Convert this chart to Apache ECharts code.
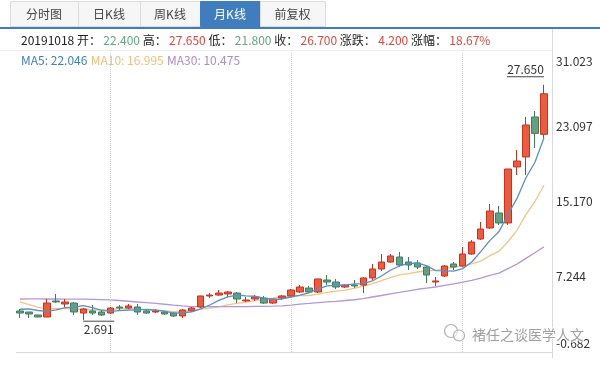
<!DOCTYPE html>
<html>
<head>
<meta charset="utf-8">
<script src="https://cdn.jsdelivr.net/npm/echarts@6/dist/echarts.min.js"></script>
<style>
  html, body { margin: 0; padding: 0; background: #fff; }
  #chart { width: 600px; height: 379px; }
</style>
</head>
<body>
<div id="chart"></div>
<script>
// ---------------- data ----------------
const categories = [
  '201412',
  '201501','201502','201503','201504','201505','201506','201507','201508','201509','201510','201511','201512',
  '201601','201602','201603','201604','201605','201606','201607','201608','201609','201610','201611','201612',
  '201701','201702','201703','201704','201705','201706','201707','201708','201709','201710','201711','201712',
  '201801','201802','201803','201804','201805','201806','201807','201808','201809','201810','201811','201812',
  '201901','201902','201903','201904','201905','201906','201907','201908','201909','201910'
];
// [open, close, low, high]
const candles = [
  [3.67, 3.45, 2.92, 3.88], [3.56, 3.35, 2.92, 3.56], [3.24, 3.03, 3.00, 3.26], [3.03, 4.51, 3.00, 4.94],
  [4.73, 4.62, 4.51, 5.47], [4.41, 4.62, 4.09, 4.94], [4.51, 3.56, 3.24, 4.62], [3.45, 3.88, 2.691, 3.98],
  [3.67, 3.45, 3.24, 4.30], [3.56, 3.24, 3.14, 3.77], [3.45, 3.98, 3.35, 4.09], [4.09, 3.98, 3.77, 4.30],
  [3.98, 4.20, 3.88, 4.41], [4.09, 3.56, 3.24, 4.41], [3.67, 3.45, 3.35, 3.77], [3.56, 3.67, 3.45, 3.88],
  [3.56, 3.35, 3.24, 3.67], [3.45, 3.14, 3.03, 3.56], [3.14, 3.77, 2.92, 3.88], [3.67, 3.98, 3.56, 4.09],
  [4.09, 5.26, 3.98, 5.28], [5.26, 5.36, 5.04, 5.57], [5.36, 5.57, 5.26, 5.89], [5.47, 5.68, 5.15, 5.79],
  [5.57, 4.94, 4.51, 5.68], [4.73, 4.83, 4.62, 5.15], [4.94, 5.15, 4.73, 5.36], [5.04, 4.51, 4.41, 5.26],
  [4.51, 4.94, 4.41, 4.96], [5.04, 5.26, 4.83, 5.36], [5.26, 5.89, 5.15, 6.00], [5.68, 6.21, 5.57, 6.42],
  [6.10, 5.68, 5.57, 6.32], [5.68, 7.06, 5.57, 7.08], [6.95, 6.74, 6.42, 7.48], [6.74, 6.21, 6.00, 7.06],
  [6.21, 6.42, 6.10, 6.53], [6.42, 6.32, 6.10, 6.95], [6.42, 7.17, 5.57, 7.27], [7.17, 8.12, 6.95, 8.65],
  [8.12, 8.86, 7.91, 9.71], [8.86, 9.50, 8.76, 9.71], [9.39, 8.54, 8.33, 9.92], [8.86, 8.54, 8.01, 9.39],
  [8.76, 8.33, 8.12, 9.07], [8.33, 7.48, 6.63, 8.54], [6.74, 6.85, 6.32, 7.27], [7.38, 8.44, 7.27, 8.54],
  [8.65, 8.33, 8.01, 8.86], [8.44, 9.71, 8.33, 10.45], [9.71, 10.98, 9.60, 11.19], [11.30, 12.36, 11.19, 13.10],
  [12.47, 14.27, 12.36, 15.01], [14.06, 13.00, 12.79, 14.80], [13.00, 18.72, 12.79, 18.74], [18.94, 19.57, 18.09, 20.74],
  [20.00, 23.39, 18.09, 24.24], [24.24, 22.50, 20.95, 24.87], [22.40, 26.70, 21.80, 27.65]
];
const ma5 = [
  3.85, 3.88, 3.72, 3.62, 3.79, 4.03, 4.07, 4.24, 4.03, 3.75,
  3.62, 3.71, 3.77, 3.79, 3.83, 3.77, 3.65, 3.43, 3.48, 3.58,
  3.90, 4.30, 4.79, 5.17, 5.36, 5.28, 5.23, 5.02, 4.87, 4.94,
  5.15, 5.36, 5.60, 6.02, 6.32, 6.38, 6.42, 6.55, 6.57, 6.85,
  7.38, 7.99, 8.44, 8.71, 8.75, 8.48, 7.95, 7.93, 7.89, 8.16,
  8.86, 9.96, 11.13, 12.06, 13.87, 15.58, 17.79, 19.44, 22.046
];
const ma10 = [
  4.62, 4.35, 4.05, 3.90, 3.95, 3.92, 3.88, 3.85, 3.80, 3.77,
  3.82, 3.89, 4.00, 3.91, 3.79, 3.70, 3.68, 3.60, 3.63, 3.71,
  3.84, 3.97, 4.11, 4.32, 4.47, 4.59, 4.77, 4.91, 5.02, 5.15,
  5.21, 5.30, 5.31, 5.45, 5.63, 5.77, 5.89, 6.07, 6.30, 6.58,
  6.88, 7.21, 7.49, 7.64, 7.80, 7.93, 7.97, 8.18, 8.30, 8.46,
  8.67, 8.96, 9.53, 9.98, 11.01, 12.22, 13.88, 15.28, 16.995
];
const ma30 = [
  4.94, 4.95, 4.95, 4.94, 4.94, 4.93, 4.93, 4.92, 4.90, 4.88,
  4.85, 4.78, 4.70, 4.62, 4.55, 4.47, 4.38, 4.28, 4.20, 4.14,
  4.12, 4.12, 4.13, 4.13, 4.14, 4.14, 4.15, 4.16, 4.18, 4.21,
  4.29, 4.39, 4.47, 4.56, 4.63, 4.68, 4.78, 4.86, 4.98, 5.15,
  5.31, 5.49, 5.64, 5.80, 5.97, 6.09, 6.21, 6.39, 6.54, 6.73,
  6.92, 7.15, 7.44, 7.69, 8.15, 8.64, 9.25, 9.85, 10.475
];
const yTickLabels = ['-0.682', '7.244', '15.170', '23.097', '31.023'];
const yMin = -0.682, yMax = 31.023;
const splitIdx = [10, 30, 49];
const tabs = ['分时图', '日K线', '周K线', '月K线', '前复权'];
const activeTab = 3;
const infoDate = '20191018';
const infoLabels = ['开：', '高：', '低：', '收：', '涨跌：', '涨幅：'];
const infoValues = ['22.400', '27.650', '21.800', '26.700', '4.200', '18.67%'];
const infoColors = ['g', 'r', 'g', 'r', 'r', 'r'];
const maLegend = ['MA5: 22.046', 'MA10: 16.995', 'MA30: 10.475'];
const watermark = '褚任之谈医学人文';

// ---------------- style ----------------
const FONT = '"Noto Sans CJK SC", "Noto Sans", sans-serif';
const RED = '#ee5a3d', RED_B = '#c8321f';
const GREEN = '#62a283', GREEN_B = '#3e7d5e';
const C_MA5 = '#5b8fc6', C_MA10 = '#f3c585', C_MA30 = '#b596db';

const chart = echarts.init(document.getElementById('chart'), null, { renderer: 'canvas' });

// tabs graphic
const tabEdges = [10, 78, 140, 200, 260, 325];
const graphics = [];
tabs.forEach((t, i) => {
  const x0 = tabEdges[i], x1 = tabEdges[i + 1];
  const active = i === activeTab;
  graphics.push({
    type: 'rect', shape: { x: x0 + 0.5, y: 1.5, width: x1 - x0, height: 25 },
    style: { fill: active ? '#3f7dbf' : '#f6f6f6', stroke: active ? '#3f7dbf' : '#dcdcdc', lineWidth: 1 },
    z: 1
  });
  graphics.push({
    type: 'text', x: (x0 + x1) / 2, y: 14,
    style: { text: t, fill: active ? '#fff' : '#444', font: '12px ' + FONT, textAlign: 'center', textVerticalAlign: 'middle' },
    z: 2
  });
});
graphics.push({ type: 'rect', shape: { x: 0, y: 27, width: 600, height: 2 }, style: { fill: '#3f7dbf' }, z: 3 });

// info row
let infoText = '{k|' + infoDate + ' }';
infoLabels.forEach((l, i) => {
  infoText += '{k|' + l + '\u2009}{' + infoColors[i] + '|' + infoValues[i] + '}' + (i < infoLabels.length - 1 ? '{k| }' : '');
});
graphics.push({
  type: 'text', x: 21, y: 40,
  style: {
    text: infoText, textVerticalAlign: 'middle',
    rich: {
      k: { fill: '#222', font: '12px ' + FONT },
      g: { fill: '#5fa886', font: '12px ' + FONT },
      r: { fill: '#e0473a', font: '12px ' + FONT }
    }
  }, z: 3
});
graphics.push({ type: 'line', shape: { x1: 0, y1: 50.5, x2: 552, y2: 50.5 }, style: { stroke: '#ececec', lineWidth: 1 }, z: 1 });

// MA legend
graphics.push({
  type: 'text', x: 21, y: 60,
  style: {
    text: '{a|' + maLegend[0] + '} {b|' + maLegend[1] + '} {c|' + maLegend[2] + '}',
    textVerticalAlign: 'middle',
    rich: {
      a: { fill: '#3f7fbf', font: '12px ' + FONT },
      b: { fill: '#f0bf78', font: '12px ' + FONT },
      c: { fill: '#a98bd0', font: '12px ' + FONT }
    }
  }, z: 3
});

// frame lines
graphics.push({ type: 'line', shape: { x1: 552.5, y1: 29, x2: 552.5, y2: 358 }, style: { stroke: '#d9d9d9', lineWidth: 1 }, z: 1 });
graphics.push({ type: 'line', shape: { x1: 16, y1: 352.5, x2: 552, y2: 352.5 }, style: { stroke: '#d9d9d9', lineWidth: 1 }, z: 1 });

// watermark
graphics.push({ type: 'circle', shape: { cx: 451, cy: 331, r: 6.5 }, style: { fill: 'rgba(255,255,255,0.6)', stroke: '#b0b0b0', lineWidth: 1.2 }, z: 20 });
graphics.push({ type: 'circle', shape: { cx: 459, cy: 335.5, r: 5.5 }, style: { fill: 'rgba(255,255,255,0.6)', stroke: '#b0b0b0', lineWidth: 1.2 }, z: 20 });
graphics.push({
  type: 'text', x: 472, y: 335,
  style: { text: watermark, fill: 'rgba(150,150,150,0.9)', font: '14px ' + FONT, textVerticalAlign: 'middle',
           stroke: 'rgba(255,255,255,0.8)', lineWidth: 2 }, z: 20
});

const option = {
  animation: false,
  backgroundColor: '#fff',
  textStyle: { fontFamily: FONT },
  grid: { left: 15.5, right: 51.5, top: 53, bottom: 27, containLabel: false },
  xAxis: {
    type: 'category', data: categories, boundaryGap: true,
    axisLine: { show: false }, axisTick: { show: false }, axisLabel: { show: false }, splitLine: { show: false }
  },
  yAxis: {
    type: 'value', position: 'right', min: yMin, max: yMax, interval: (yMax - yMin) / 4, scale: true,
    axisLine: { show: false }, axisTick: { show: false }, splitLine: { show: false },
    axisLabel: {
      margin: 7.5, color: '#333', fontSize: 12, fontFamily: FONT,
      formatter: function (v, i) {
        const k = Math.round((v - yMin) / ((yMax - yMin) / 4));
        const s = yTickLabels[k];
        if (k === 4) return '{t|' + s + '}';
        if (k === 0) return '{b|' + s + '}';
        return '{m|' + s + '}';
      },
      rich: {
        t: { fontSize: 12, color: '#333', padding: [16, 0, 0, 0] },
        b: { fontSize: 12, color: '#333', padding: [0, 0, 18, 0] },
        m: { fontSize: 12, color: '#333', padding: [0, 0, 2, 0] }
      }
    }
  },
  graphic: graphics,
  series: [
    {
      name: 'K', type: 'candlestick', data: candles, barWidth: 7,
      itemStyle: { color: RED, color0: GREEN, borderColor: RED_B, borderColor0: GREEN_B, borderWidth: 1 },
      markPoint: {
        silent: true, animation: false,
        data: [
          {
            type: 'max', valueDim: 'highest', symbol: 'rect', symbolSize: [37, 1], symbolOffset: [-18.5, -8],
            itemStyle: { color: '#444' },
            label: { show: true, position: 'top', distance: 1, color: '#333', fontSize: 12, fontFamily: FONT,
                     formatter: p => Number(p.value).toFixed(3) }
          },
          {
            type: 'min', valueDim: 'lowest', symbol: 'rect', symbolSize: [31, 1], symbolOffset: [15.5, 1],
            itemStyle: { color: '#444' },
            label: { show: true, position: 'bottom', distance: 2, color: '#333', fontSize: 12, fontFamily: FONT,
                     formatter: p => Number(p.value).toFixed(3) }
          }
        ]
      },
      markLine: {
        silent: true, symbol: 'none', animation: false,
        label: { show: false },
        lineStyle: { type: 'dotted', color: '#cfcfcf', width: 1 },
        data: splitIdx.map(i => ({ xAxis: categories[i] }))
      },
      z: 5
    },
    { name: 'MA5', type: 'line', data: ma5, symbol: 'none', lineStyle: { color: C_MA5, width: 1.3 }, z: 6 },
    { name: 'MA10', type: 'line', data: ma10, symbol: 'none', lineStyle: { color: C_MA10, width: 1.3 }, z: 4 },
    { name: 'MA30', type: 'line', data: ma30, symbol: 'none', lineStyle: { color: C_MA30, width: 1.3 }, z: 4 }
  ]
};
chart.setOption(option);
</script>
</body>
</html>
